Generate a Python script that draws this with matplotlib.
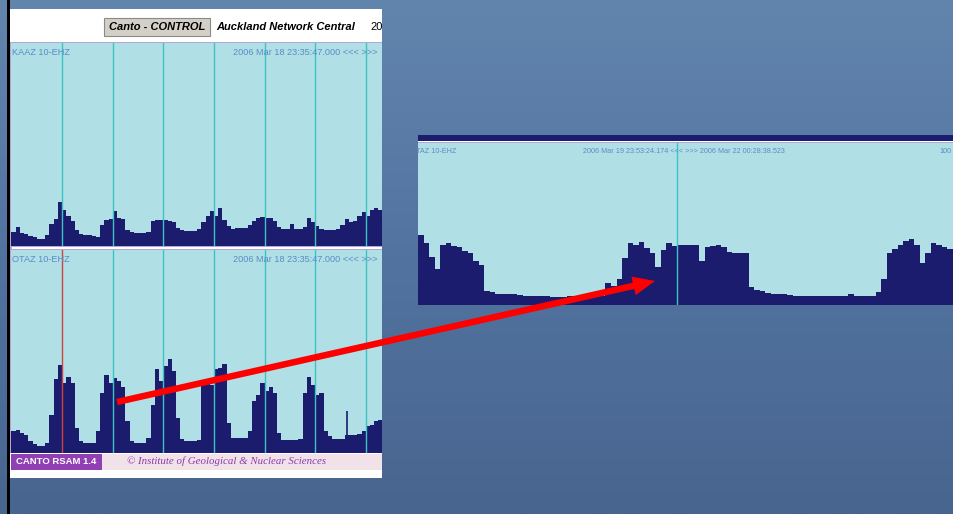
import numpy as np
import matplotlib
matplotlib.use("Agg")
import matplotlib.pyplot as plt
from matplotlib.patches import Rectangle, FancyArrow
from matplotlib.colors import LinearSegmentedColormap

W, H = 954, 514

# ---------------- data (RSAM levels) ----------------
# left panels: 2-hour bins, 7.3 days
kaaz_vals = [14, 19, 13, 12, 10, 9, 7, 7, 11, 22,
             27, 44, 36, 30, 25, 16, 12, 11, 11, 10,
             9, 21, 26, 27, 35, 28, 27, 16, 14, 13,
             13, 13, 14, 25, 26, 26, 26, 25, 24, 18,
             16, 15, 15, 15, 17, 24, 30, 35, 30, 38,
             26, 20, 17, 18, 18, 18, 21, 25, 28, 29,
             28, 28, 25, 19, 17, 17, 22, 17, 17, 19,
             28, 24, 20, 17, 16, 16, 16, 17, 21, 27,
             24, 25, 30, 34, 30, 36, 38, 36]
otaz_vals = [22, 23, 20, 18, 12, 9, 7, 7, 10, 38,
             74, 88, 70, 76, 70, 25, 12, 10, 10, 10,
             22, 60, 78, 70, 75, 72, 66, 32, 12, 10,
             10, 10, 15, 48, 84, 72, 87, 94, 82, 35,
             14, 12, 12, 12, 13, 68, 72, 68, 84, 85,
             89, 30, 15, 15, 15, 15, 22, 52, 58, 70,
             62, 66, 60, 20, 13, 13, 13, 13, 14, 60,
             76, 68, 58, 60, 22, 17, 14, 14, 14, 18,
             18, 18, 19, 22, 27, 28, 32, 33]
otaz_spike_hours = [159.2]
otaz_spike_vals = [42]
left_bin_hours = 2.0
left_span_hours = 175.7
left_day_lines = [24, 48, 72, 96, 120, 144, 168]

# zoomed inset: half-hour bins, ~48.6 hours
inset_vals = [70, 62, 48, 36, 60, 62, 59, 58, 54, 52,
              44, 40, 14, 13, 11, 11, 11, 11, 10, 9,
              9, 9, 9, 9, 8, 8, 8, 9, 9, 9,
              9, 9, 9, 9, 22, 19, 26, 47, 62, 60,
              63, 57, 52, 38, 55, 62, 59, 60, 60, 60,
              60, 44, 58, 59, 60, 58, 53, 52, 52, 52,
              18, 15, 14, 12, 11, 11, 11, 10, 9, 9,
              9, 9, 9, 9, 9, 9, 9, 9, 11, 9,
              9, 9, 9, 13, 26, 52, 56, 60, 64, 66,
              60, 42, 52, 62, 60, 58, 56]
inset_bin_hours = 0.5
inset_span_hours = 48.6
inset_day_lines = [23.5]

station_top = "KAAZ 10-EHZ"
station_bottom = "OTAZ 10-EHZ"
left_time = "2006 Mar 18 23:35:47.000 <<< >>>"
inset_station = "TAZ 10-EHZ"
inset_time = "2006 Mar 19 23:53:24.174 <<< >>> 2006 Mar 22 00:28:38.523"
inset_right = "100"

# ---------------- colours ----------------
CYAN = "#b0e0e6"
NAVY = "#1c1c6e"
TEAL = "#3cc4c4"
LABEL = "#5a8cc4"
LAV = "#b4a6d8"

fig = plt.figure(figsize=(W / 100, H / 100), dpi=100)

ax_bg = fig.add_axes([0, 0, 1, 1])
ax_bg.set_xlim(0, W)
ax_bg.set_ylim(H, 0)
ax_bg.axis("off")
grad = np.linspace(0, 1, 256).reshape(-1, 1)
cmap = LinearSegmentedColormap.from_list("bg", ["#6285ae", "#5273a0", "#48658f"])
ax_bg.imshow(grad, extent=[0, W, H, 0], cmap=cmap, aspect="auto", zorder=0)

def rect(x, y, w, h, fc, ec="none", lw=0, z=1):
    ax_bg.add_patch(Rectangle((x, y), w, h, facecolor=fc, edgecolor=ec, linewidth=lw, zorder=z))

# left slide border and screenshot frame
rect(7, 0, 3, H, "black", z=2)
rect(10, 9, 372, 469, "white", z=2)

# header
rect(104, 18, 106, 18, "#d4d0c8", ec="#8a8a8a", lw=0.8, z=3)
ax_bg.text(157, 27.5, "Canto - CONTROL", fontsize=8, fontweight="bold", fontstyle="italic",
           family="Liberation Sans", ha="center", va="center", zorder=4)
ax_bg.text(216, 27.5, "Auckland Network Central", fontsize=8, fontweight="bold", fontstyle="italic",
           family="Liberation Sans", ha="left", va="center", zorder=4)
ax_bg.text(370, 27.5, "20", fontsize=8, family="Liberation Sans", ha="left", va="center", zorder=4,
           clip_path=Rectangle((10, 9), 372, 40, transform=ax_bg.transData))

# borders between panels
rect(11, 42, 371, 1.2, LAV, z=3)
rect(11, 246, 371, 1.2, LAV, z=3)
rect(11, 248.5, 371, 1.2, LAV, z=3)
rect(10.5, 42, 1.2, 411, LAV, z=3)

# footer
rect(11, 453.5, 91, 16, "#9140b4", z=3)
rect(102, 453.5, 280, 16, "#f1e2ea", z=3)
ax_bg.text(56, 461.5, "CANTO RSAM 1.4", fontsize=6.8, fontweight="bold", color="white",
           family="Liberation Sans", ha="center", va="center", zorder=4)
ax_bg.text(227, 461.5, "\u00a9 Institute of Geological & Nuclear Sciences", fontsize=7.8,
           fontstyle="italic", color="#8a3aa8", family="Liberation Serif",
           ha="center", va="center", zorder=4)

# inset frame
rect(418, 135, 536, 6, NAVY, z=3)
rect(418, 141, 536, 1.5, "white", z=3)
rect(418, 142.2, 536, 1, LAV, z=3)


def panel(x0, y0, x1, y1):
    ax = fig.add_axes([x0 / W, 1 - y1 / H, (x1 - x0) / W, (y1 - y0) / H])
    ax.set_facecolor(CYAN)
    ax.set_xticks([])
    ax.set_yticks([])
    for s in ax.spines.values():
        s.set_visible(False)
    return ax


def draw_left(ax, vals, height, first_line_color):
    edges = np.arange(len(vals) + 1) * left_bin_hours
    ax.stairs(vals, edges, fill=True, color=NAVY, zorder=2)
    for i, d in enumerate(left_day_lines):
        c = first_line_color if i == 0 else TEAL
        ax.axvline(d, color=c, lw=1.0, zorder=3)
    ax.set_xlim(0, left_span_hours)
    ax.set_ylim(0, height)


ax1 = panel(11.5, 43, 382, 246)
draw_left(ax1, kaaz_vals, 203, TEAL)
ax2 = panel(11.5, 250, 382, 453)
draw_left(ax2, otaz_vals, 203, "#d0403c")
ax2.vlines(otaz_spike_hours, 0, otaz_spike_vals, color=NAVY, lw=1.2, zorder=2)

for ax, lab in [(ax1, station_top), (ax2, station_bottom)]:
    ax.text(0.6, 0.953, lab, transform=ax.transAxes, fontsize=6.6, color=LABEL,
            family="Liberation Sans", ha="left", va="center", zorder=5)
    ax.text(0.598, 0.953, left_time, transform=ax.transAxes, fontsize=6.6, color=LABEL,
            family="Liberation Sans", ha="left", va="center", zorder=5, clip_on=True)
ax1.texts[0].set_position((0.002, 0.953))
ax2.texts[0].set_position((0.002, 0.953))

# inset panel
ax3 = panel(418, 143, 954, 305)
edges = np.arange(len(inset_vals) + 1) * inset_bin_hours
ax3.stairs(inset_vals, edges, fill=True, color=NAVY, zorder=2)
for d in inset_day_lines:
    ax3.axvline(d, color=TEAL, lw=1.0, zorder=3)
ax3.set_xlim(0, inset_span_hours)
ax3.set_ylim(0, 162)
ax3.text(-0.003, 0.95, inset_station, transform=ax3.transAxes, fontsize=5.2, color=LABEL,
         family="Liberation Sans", ha="left", va="center", zorder=5)
ax3.text(0.3085, 0.95, inset_time, transform=ax3.transAxes, fontsize=5.2, color=LABEL,
         family="Liberation Sans", ha="left", va="center", zorder=5)
ax3.text(0.973, 0.95, inset_right, transform=ax3.transAxes, fontsize=5.2, color=LABEL,
         family="Liberation Sans", ha="left", va="center", zorder=5, clip_on=True)

# red arrow overlay
ax_top = fig.add_axes([0, 0, 1, 1], zorder=20)
ax_top.set_xlim(0, W)
ax_top.set_ylim(H, 0)
ax_top.axis("off")
x0, y0, x1, y1 = 117, 402, 655, 281
ax_top.add_patch(FancyArrow(x0, y0, x1 - x0, y1 - y0, width=6.5, head_width=19, head_length=22,
                            length_includes_head=True, color="#ff0000", lw=0))

fig.savefig("out.png", dpi=100)
